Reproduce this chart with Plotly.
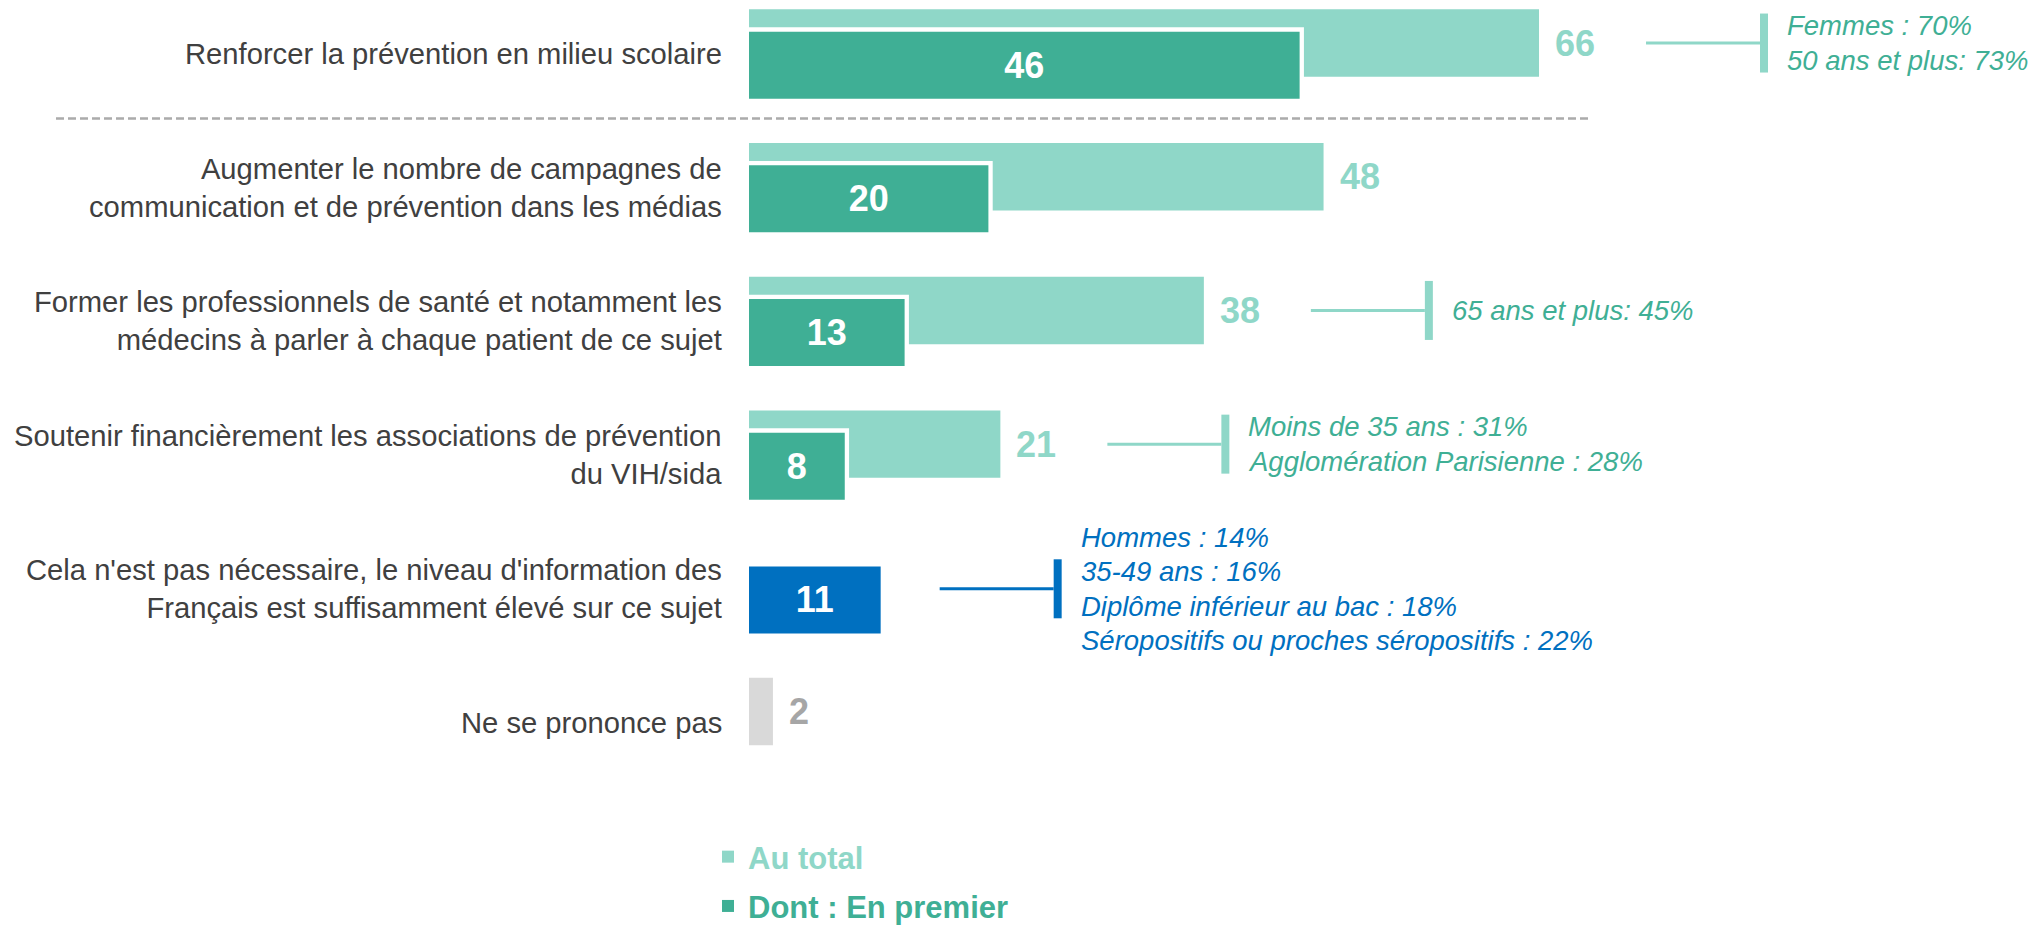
import plotly.graph_objects as go

# ---------------- data ----------------
categories = [
    "Renforcer la prévention en milieu scolaire",
    "Augmenter le nombre de campagnes de<br>communication et de prévention dans les médias",
    "Former les professionnels de santé et notamment les<br>médecins à parler à chaque patient de ce sujet",
    "Soutenir financièrement les associations de prévention<br>du VIH/sida",
    "Cela n'est pas nécessaire, le niveau d'information des<br>Français est suffisamment élevé sur ce sujet",
    "Ne se prononce pas",
]
au_total = [66, 48, 38, 21, None, 2]
en_premier = [46, 20, 13, 8, 11, None]

series_names = ["Au total", "Dont : En premier"]

callout_rows = [0, 2, 3, 4]
callout_texts = [
    ["Femmes : 70%", "50 ans et plus: 73%"],
    ["65 ans et plus: 45%"],
    ["Moins de 35 ans : 31%", "Agglomération Parisienne : 28%"],
    ["Hommes : 14%", "35-49 ans : 16%", "Diplôme inférieur au bac : 18%",
     "Séropositifs ou proches séropositifs : 22%"],
]

# ---------------- styles ----------------
LIGHT = "#8FD7C8"
DARK = "#3FAF95"
BLUE = "#0070C0"
GREY_BAR = "#D9D9D9"
GREY_TXT = "#A6A6A6"
LABEL_TXT = "#404040"
FONT = "Liberation Sans, Arial, sans-serif"

total_colors = [LIGHT, LIGHT, LIGHT, LIGHT, LIGHT, GREY_BAR]
total_text_colors = [LIGHT, LIGHT, LIGHT, LIGHT, LIGHT, GREY_TXT]
premier_colors = [DARK, DARK, DARK, DARK, BLUE, DARK]
callout_text_colors = [DARK, DARK, DARK, BLUE]
callout_line_colors = [LIGHT, LIGHT, LIGHT, BLUE]

W, H = 2036, 925
ML, MT, MB = 749, 0, 125
PX_PER_UNIT = 11.97
XMAX = (W - ML) / PX_PER_UNIT
PITCH = 133.7
PLOT_H = H - MT - MB
Y_TOP = -54 / PITCH
Y_BOT = Y_TOP + PLOT_H / PITCH

LIGHT_OFF, LIGHT_W = -0.334, 0.504
DARK_OFF, DARK_W = -0.167, 0.501
BACK_OFF, BACK_W = -0.200, 0.534
BORDER_UNITS = 0.36

ypos = list(range(len(categories)))

fig = go.Figure()

# Au total bars
fig.add_trace(go.Bar(
    y=ypos, x=au_total, orientation="h",
    name=f'<span style="color:{LIGHT}"><b>{series_names[0]}</b></span>',
    marker=dict(color=total_colors, line=dict(width=0)),
    offset=LIGHT_OFF, width=LIGHT_W, hoverinfo="skip", legendgroup="a",
))
# white border behind the "en premier" bars where they overlap total bars
backing = [(p + BORDER_UNITS) if (p is not None and t is not None) else None
           for p, t in zip(en_premier, au_total)]
fig.add_trace(go.Bar(
    y=ypos, x=backing, orientation="h", showlegend=False,
    marker=dict(color="white", line=dict(width=0)),
    offset=BACK_OFF, width=BACK_W, hoverinfo="skip",
))
# En premier bars
fig.add_trace(go.Bar(
    y=ypos, x=en_premier, orientation="h",
    name=f'<span style="color:{DARK}"><b>{series_names[1]}</b></span>',
    marker=dict(color=premier_colors, line=dict(width=0)),
    offset=DARK_OFF, width=DARK_W, hoverinfo="skip", legendgroup="b",
    texttemplate="%{x}", textposition="inside", insidetextanchor="middle",
    textangle=0, constraintext="none",
    insidetextfont=dict(family=FONT, size=36, color="white", weight="bold"),
))

annotations = []
shapes = []

# category labels
for i, cat in enumerate(categories):
    annotations.append(dict(
        x=0, xref="paper", xanchor="right", xshift=-25,
        y=i, yref="y", yanchor="middle",
        text=cat, align="right", showarrow=False,
        font=dict(family=FONT, size=29.2, color=LABEL_TXT),
    ))

# total value labels (outside)
light_center = LIGHT_OFF + LIGHT_W / 2
for i, v in enumerate(au_total):
    if v is None:
        continue
    annotations.append(dict(
        x=v, xref="x", xanchor="left", xshift=14,
        y=i + light_center, yref="y", yanchor="middle",
        text=f"<b>{v}</b>", showarrow=False,
        font=dict(family=FONT, size=36, color=total_text_colors[i]),
    ))

# callouts
LINE_LEN, BR_W, TXT_GAP, LINE_SP = 114, 8, 17, 34.5
for k, r in enumerate(callout_rows):
    if au_total[r] is not None:
        ax, ay, gap = au_total[r], r + light_center, 107
    else:
        ax, ay, gap = en_premier[r], r, 59
    lc = callout_line_colors[k]
    shapes.append(dict(
        type="line", xref="x", yref="y", xsizemode="pixel", xanchor=ax,
        x0=gap, x1=gap + LINE_LEN, y0=ay, y1=ay,
        line=dict(color=lc, width=3), layer="above",
    ))
    shapes.append(dict(
        type="rect", xref="x", yref="y", xsizemode="pixel", xanchor=ax,
        x0=gap + LINE_LEN, x1=gap + LINE_LEN + BR_W,
        ysizemode="pixel", yanchor=ay, y0=-29.5, y1=29.5,
        fillcolor=lc, line=dict(width=0), layer="above",
    ))
    lines = callout_texts[k]
    n = len(lines)
    for j, t in enumerate(lines):
        annotations.append(dict(
            x=ax, xref="x", xanchor="left", xshift=gap + LINE_LEN + BR_W + TXT_GAP,
            y=ay, yref="y", yanchor="middle", yshift=-(j - (n - 1) / 2) * LINE_SP,
            text=f"<i>{t}</i>", showarrow=False,
            font=dict(family=FONT, size=27.5, color=callout_text_colors[k]),
        ))

# dashed separator under the first item
shapes.append(dict(
    type="line", xref="paper", yref="y",
    x0=(56 - ML) / (W - ML), x1=(1591 - ML) / (W - ML), y0=0.482, y1=0.482,
    line=dict(color="#ABABAB", width=2.5, dash="8px,4px"), layer="above",
))

fig.update_layout(
    width=W, height=H,
    margin=dict(l=ML, r=0, t=MT, b=MB, pad=0, autoexpand=False),
    paper_bgcolor="white", plot_bgcolor="white",
    barmode="overlay",
    xaxis=dict(range=[0, XMAX], visible=False, fixedrange=True),
    yaxis=dict(range=[Y_BOT, Y_TOP], visible=False, fixedrange=True),
    annotations=annotations, shapes=shapes,
    showlegend=True,
    legend=dict(
        x=(708 - ML) / (W - ML), xanchor="left",
        y=(PLOT_H - 830) / PLOT_H, yanchor="top",
        orientation="v", traceorder="grouped", tracegroupgap=6,
        font=dict(family=FONT, size=31),
        bgcolor="rgba(0,0,0,0)", itemclick=False, itemdoubleclick=False,
    ),
    font=dict(family=FONT),
)

fig.write_html("out.html")
